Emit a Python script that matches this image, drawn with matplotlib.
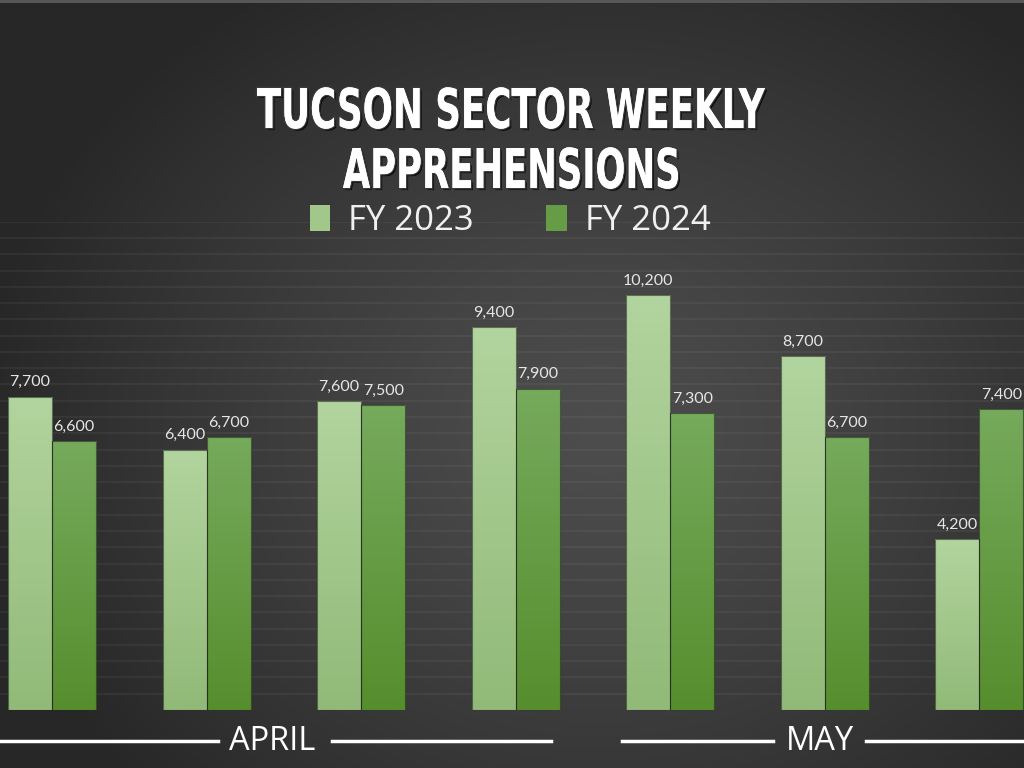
import numpy as np
import matplotlib
matplotlib.use("Agg")
import matplotlib.pyplot as plt
from matplotlib.patches import Rectangle, PathPatch
from matplotlib.lines import Line2D
from matplotlib.textpath import TextPath
from matplotlib.font_manager import FontProperties
from matplotlib.transforms import Affine2D
import matplotlib.patheffects as pe

# weekly apprehensions, Tucson sector
weeks = ["Apr wk1", "Apr wk2", "Apr wk3", "Apr wk4", "May wk1", "May wk2", "May wk3"]
fy2023 = [7700, 6400, 7600, 9400, 10200, 8700, 4200]
fy2024 = [6600, 6700, 7500, 7900, 7300, 6700, 7400]
series_names = ["FY 2023", "FY 2024"]
months = ["APRIL", "MAY"]
title_lines = ["TUCSON SECTOR WEEKLY", "APPREHENSIONS"]

W, H = 1024, 768
fig = plt.figure(figsize=(W / 100, H / 100), dpi=100)

# ---- background radial gradient ----
bg = fig.add_axes([0, 0, 1, 1], zorder=-10)
yy, xx = np.mgrid[0:H, 0:W]
d = np.sqrt(((xx - 600) / 620.0) ** 2 + ((yy - 430) / 520.0) ** 2)
d = np.clip(d, 0, 1)
c = 0.30 - 0.145 * d ** 1.3
bg.imshow(np.dstack([c, c, c]), extent=[0, W, H, 0], aspect="auto")
bg.plot([0, W], [1, 1], color="#5a5a5a", lw=2)
bg.set_xlim(0, W)
bg.set_ylim(H, 0)
bg.axis("off")

# ---- bars ----
ax = fig.add_axes([0, 1 - 710 / H, 1, 488.3 / H])
ax.patch.set_alpha(0)
x = np.arange(len(weeks))
bw = 0.285

for gy in np.arange(400, 12001, 400):
    ax.axhline(gy, color="white", alpha=0.05, lw=1.3, zorder=0)

top23 = np.array([178, 212, 158]) / 255
bot23 = np.array([145, 186, 120]) / 255
top24 = np.array([118, 170, 92]) / 255
bot24 = np.array([86, 142, 46]) / 255


def grad_bars(xs, vals, ctop, cbot):
    bars = ax.bar(xs, vals, width=bw, color="none", edgecolor=(0.1, 0.1, 0.1, 0.55),
                  linewidth=0.8, zorder=3)
    for b, v in zip(bars, vals):
        t = np.linspace(0, 1, 100)[:, None]
        img = ctop[None, None, :] * (1 - t[..., None]) + cbot[None, None, :] * t[..., None]
        im = ax.imshow(img, extent=[b.get_x(), b.get_x() + b.get_width(), 0, v],
                       aspect="auto", zorder=2)
        im.set_clip_path(b)
        ax.text(b.get_x() + b.get_width() / 2, v + 180, f"{v:,}", ha="center",
                va="bottom", color="#e6e6e6", fontsize=11.5, family=["Lato", "DejaVu Sans"],
                zorder=4)
    return bars


grad_bars(x - bw / 2, fy2023, top23, bot23)
grad_bars(x + bw / 2, fy2024, top24, bot24)
ax.set_xlim(-0.337, 6.29)
ax.set_ylim(0, 12000)
ax.axis("off")

# ---- title (condensed bold, drawn as scaled text paths) ----
fp = FontProperties(family="DejaVu Sans", weight="bold")
shadow = [pe.withSimplePatchShadow(offset=(1.5, -1.5), shadow_rgbFace="black", alpha=0.8),
          pe.withStroke(linewidth=2, foreground="#3a3a3a"), pe.Normal()]
cap = TextPath((0, 0), "H", size=100, prop=fp).get_extents().height
for line, (x0, x1, base) in zip(title_lines, [(257, 765, 128), (343, 678, 188)]):
    tp = TextPath((0, 0), line, size=100, prop=fp)
    bb = tp.get_extents()
    tr = Affine2D().translate(-bb.x0, 0).scale((x1 - x0) / bb.width, -40 / cap).translate(x0, base)
    bg.add_patch(PathPatch(tr.transform_path(tp), facecolor="white", edgecolor="none",
                           path_effects=shadow, zorder=5))

# ---- legend ----
handles = [Rectangle((0, 0), 1, 1, facecolor=(top23 + bot23) / 2),
           Rectangle((0, 0), 1, 1, facecolor=(top24 + bot24) / 2)]
leg = fig.legend(handles, series_names, loc="center", bbox_to_anchor=(510 / W, 1 - 221 / H),
                 ncol=2, frameon=False, handlelength=0.6, handleheight=0.75,
                 handletextpad=0.5, columnspacing=2.1,
                 prop={"family": ["Open Sans", "DejaVu Sans"], "size": 25})
for t in leg.get_texts():
    t.set_color("#f0f0f0")

# ---- month labels ----
ly = 1 - 741 / H
for (lx0, lx1) in [(0, 218), (332, 551), (622, 773), (866, 1024)]:
    fig.add_artist(Line2D([lx0 / W, lx1 / W], [ly, ly], color="white", lw=2.5))
for m, cx in zip(months, [272, 820]):
    fig.text(cx / W, ly, m, ha="center", va="center", color="white", fontsize=23.5,
             family=["Open Sans", "DejaVu Sans"])

fig.savefig("out.png", dpi=100)
